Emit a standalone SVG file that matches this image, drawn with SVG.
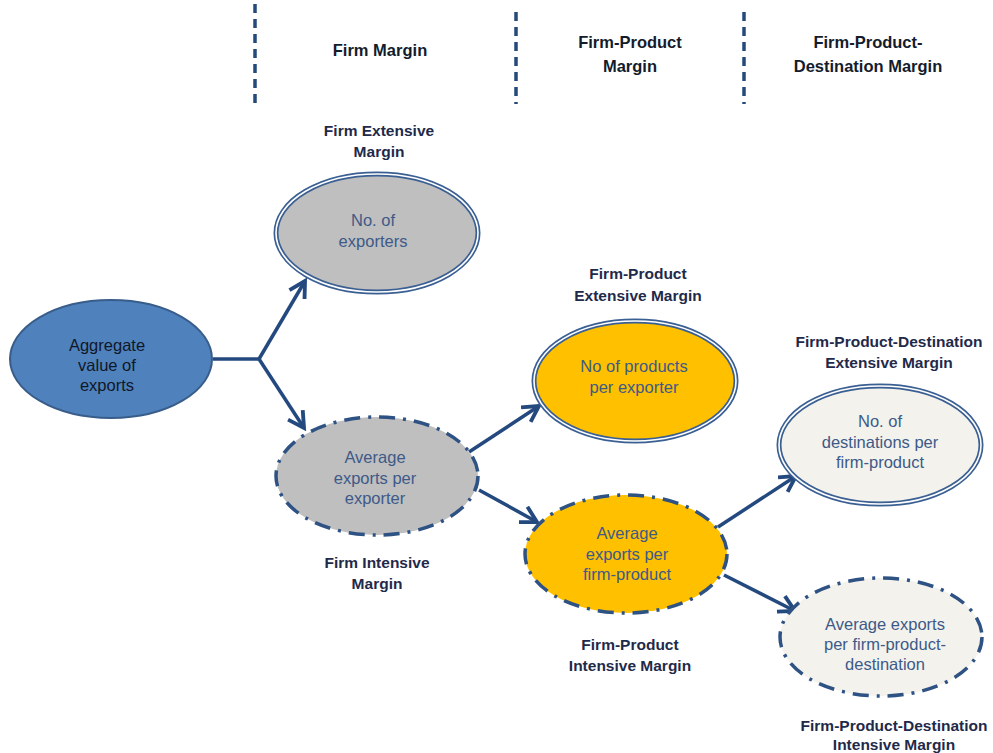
<svg xmlns="http://www.w3.org/2000/svg" width="993" height="753" viewBox="0 0 993 753">
<defs>
<style>
.hdr{font-family:"Liberation Sans",Arial,sans-serif;font-size:16.5px;font-weight:bold;fill:#141c2c;text-anchor:middle}
.lbl{font-family:"Liberation Sans",Arial,sans-serif;font-size:15.5px;font-weight:bold;fill:#1f2a4a;text-anchor:middle}
.in{font-family:"Liberation Sans",Arial,sans-serif;font-size:16.5px;fill:#3d5a88;text-anchor:middle}
.inDark{font-family:"Liberation Sans",Arial,sans-serif;font-size:16.5px;fill:#101828;text-anchor:middle}
.div{stroke:#24497a;stroke-width:3.5;stroke-dasharray:9 6;fill:none}
.dbl{stroke:#3a5f92;stroke-width:5}
.dblin{fill:none;stroke:#ffffff;stroke-width:1.6}
.dd{stroke:#2e5283;stroke-width:3.5;stroke-dasharray:16 8 3 8}
.conn{stroke:#23497f;stroke-width:3.5;fill:none}
</style>
<marker id="arr" viewBox="0 0 12 12" refX="10" refY="6" markerWidth="6" markerHeight="6" markerUnits="strokeWidth" orient="auto">
<path d="M1,1 L10,6 L1,11" fill="none" stroke="#23497f" stroke-width="2.2"/>
</marker>
</defs>
<rect width="993" height="753" fill="#ffffff"/>

<g id="dividers">
<line class="div" x1="255" y1="4" x2="255" y2="104"/>
<line class="div" x1="516" y1="12" x2="516" y2="104"/>
<line class="div" x1="744" y1="12" x2="744" y2="104"/>
</g>

<g id="headers">
<text class="hdr" x="380" y="56">Firm Margin</text>
<text class="hdr" x="630" y="48">Firm-Product</text>
<text class="hdr" x="630" y="72">Margin</text>
<text class="hdr" x="868" y="48" fill="#1f3860">Firm-Product-</text>
<text class="hdr" x="868" y="72" fill="#1f3860">Destination Margin</text>
</g>

<g id="connectors">
<polyline class="conn" points="213,359 259,359"/>
<polyline class="conn" points="259,359 305,281" marker-end="url(#arr)"/>
<polyline class="conn" points="259,359 304,428" marker-end="url(#arr)"/>
<polyline class="conn" points="469,452 539,406" marker-end="url(#arr)"/>
<polyline class="conn" points="479,490 537,522" marker-end="url(#arr)"/>
<polyline class="conn" points="718,527 796,476" marker-end="url(#arr)"/>
<polyline class="conn" points="724,575 795,611" marker-end="url(#arr)"/>
</g>

<g id="aggregate">
<ellipse cx="111" cy="359" rx="101" ry="59" fill="#4f81bd" stroke="#385d8a" stroke-width="2"/>
<text class="inDark" x="107" y="351">Aggregate</text>
<text class="inDark" x="107" y="371">value of</text>
<text class="inDark" x="107" y="391">exports</text>
</g>

<g id="no-exporters">
<text class="lbl" x="379" y="136">Firm Extensive</text>
<text class="lbl" x="379" y="157">Margin</text>
<ellipse class="dbl" cx="377" cy="233" rx="101" ry="59" fill="#bfbfbf"/>
<ellipse class="dblin" cx="377" cy="233" rx="101" ry="59"/>
<text class="in" x="373" y="226">No. of</text>
<text class="in" x="373" y="247">exporters</text>
</g>

<g id="avg-exporter">
<ellipse class="dd" cx="377" cy="476" rx="101" ry="59" fill="#bfbfbf"/>
<text class="in" x="375" y="463">Average</text>
<text class="in" x="375" y="484">exports per</text>
<text class="in" x="375" y="504">exporter</text>
<text class="lbl" x="377" y="568">Firm Intensive</text>
<text class="lbl" x="377" y="589">Margin</text>
</g>

<g id="no-products">
<text class="lbl" x="638" y="279">Firm-Product</text>
<text class="lbl" x="638" y="301">Extensive Margin</text>
<ellipse class="dbl" cx="635" cy="381" rx="101" ry="60" fill="#ffc000"/>
<ellipse class="dblin" cx="635" cy="381" rx="101" ry="60"/>
<text class="in" x="634" y="372">No of products</text>
<text class="in" x="634" y="393">per exporter</text>
</g>

<g id="avg-firm-product">
<ellipse class="dd" cx="626" cy="554" rx="101" ry="59" fill="#ffc000"/>
<text class="in" x="627" y="539">Average</text>
<text class="in" x="627" y="560">exports per</text>
<text class="in" x="627" y="580">firm-product</text>
<text class="lbl" x="630" y="650">Firm-Product</text>
<text class="lbl" x="630" y="671">Intensive Margin</text>
</g>

<g id="no-destinations">
<text class="lbl" x="889" y="347">Firm-Product-Destination</text>
<text class="lbl" x="889" y="368">Extensive Margin</text>
<ellipse class="dbl" cx="880" cy="445" rx="101" ry="59" fill="#f3f2ec"/>
<ellipse class="dblin" cx="880" cy="445" rx="101" ry="59"/>
<text class="in" x="880" y="427">No. of</text>
<text class="in" x="880" y="448">destinations per</text>
<text class="in" x="880" y="468">firm-product</text>
</g>

<g id="avg-fpd">
<ellipse class="dd" cx="881" cy="637" rx="101" ry="59" fill="#f3f2ec"/>
<text class="in" x="885" y="630">Average exports</text>
<text class="in" x="885" y="650">per firm-product-</text>
<text class="in" x="885" y="670">destination</text>
<text class="lbl" x="894" y="731">Firm-Product-Destination</text>
<text class="lbl" x="894" y="750">Intensive Margin</text>
</g>
</svg>
